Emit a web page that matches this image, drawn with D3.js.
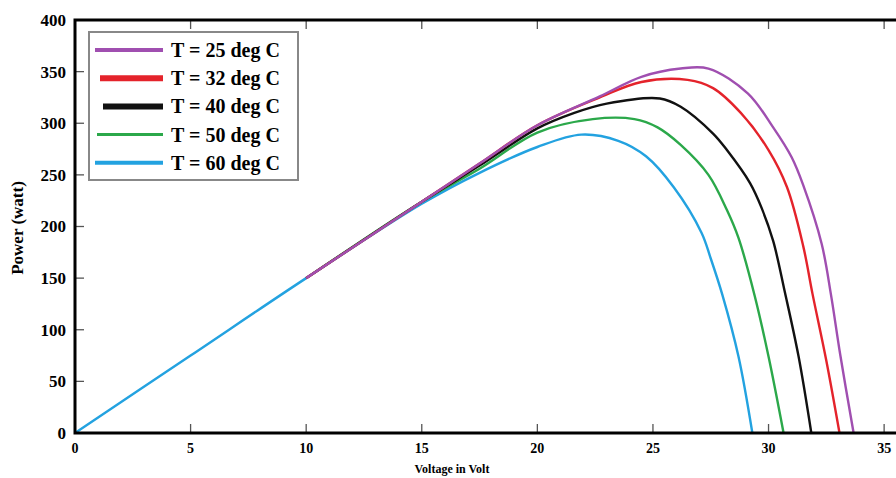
<!DOCTYPE html>
<html>
<head>
<meta charset="utf-8">
<script src="https://cdn.jsdelivr.net/npm/d3@7"></script>
<style>
  body { margin: 0; background: #fff; }
  text { font-family: "Liberation Serif", "Times New Roman", serif; font-weight: bold; }
</style>
</head>
<body>
<div id="chart"></div>
<script>
// P-V curves of the PV module at different temperatures

var xTicks = [0, 5, 10, 15, 20, 25, 30, 35];
var yTicks = [0, 50, 100, 150, 200, 250, 300, 350, 400];

var seriesNames = ["T = 25 deg C", "T = 32 deg C", "T = 40 deg C", "T = 50 deg C", "T = 60 deg C"];
var seriesColors = ["#a04fb0", "#e4232b", "#111111", "#2ba84a", "#23a2e0"];

// [voltage, power]
var t25 = [[10, 150], [15, 224], [17.5, 261], [20, 298], [22.7, 326], [24.5, 345], [26.2, 353], [27.4, 353],
           [29.1, 329], [30.2, 296], [31.0, 267], [31.5, 240], [32.3, 183], [32.7, 134], [33.1, 76], [33.68, 0]];
var t32 = [[10, 150], [15, 224], [17.5, 261], [20, 298], [22.7, 325], [24.5, 340], [26.5, 342], [27.6, 334],
           [28.8, 310], [30.0, 274], [30.8, 238], [31.5, 181], [31.9, 135], [32.5, 70], [33.07, 0]];
var t40 = [[10, 150], [15, 224], [17.5, 259], [20, 295], [21.6, 310], [23, 319], [25.3, 324], [26.2, 316],
           [27.6, 290], [28.2, 274], [29.2, 242], [29.7, 218], [30.2, 186], [30.7, 137], [31.3, 74], [31.85, 0]];
var t50 = [[10, 150], [15, 224], [17.5, 256], [20, 291], [22.4, 304], [24.2, 304], [25.2, 296], [26.2, 279],
           [27.4, 250], [28.2, 216], [28.7, 189], [29.4, 133], [30.0, 74], [30.65, 0]];
var t60 = [[0, 0], [5, 75], [10, 150], [15, 222], [17.5, 252], [20, 277], [21.9, 289], [23.5, 283], [24.7, 268],
           [25.9, 238], [27.1, 194], [27.5, 169], [28.0, 134], [28.7, 74], [29.3, 0]];

var allSeries = [t25, t32, t40, t50, t60];

var WIDTH = 896, HEIGHT = 478;
var plotLeft = 75, plotTop = 20, plotBottom = 433;

var svg = d3.select("#chart").append("svg")
    .attr("width", WIDTH)
    .attr("height", HEIGHT);

var x = d3.scaleLinear().domain([0, 35.6]).range([plotLeft, 898]);
var y = d3.scaleLinear().domain([0, 400]).range([plotBottom, plotTop]);

// ticks inside the frame
var tickG = svg.append("g").attr("stroke", "#555").attr("stroke-width", 1.3);
xTicks.forEach(function (t) {
    if (t == 0) return;
    tickG.append("line").attr("x1", x(t)).attr("x2", x(t)).attr("y1", plotBottom).attr("y2", plotBottom - 9);
    tickG.append("line").attr("x1", x(t)).attr("x2", x(t)).attr("y1", plotTop).attr("y2", plotTop + 9);
});
yTicks.forEach(function (t) {
    tickG.append("line").attr("x1", plotLeft).attr("x2", plotLeft + 9).attr("y1", y(t)).attr("y2", y(t));
});

// curves, blue first so the others sit above it
var line = d3.line()
    .x(function (d) { return x(d[0]); })
    .y(function (d) { return y(d[1]); })
    .curve(d3.curveCatmullRom.alpha(0.5));

for (var i = allSeries.length - 1; i >= 0; i--) {
    svg.append("path")
        .datum(allSeries[i])
        .attr("fill", "none")
        .attr("stroke", seriesColors[i])
        .attr("stroke-width", 2.4)
        .attr("stroke-linejoin", "round")
        .attr("d", line);
}

// frame
svg.append("path")
    .attr("d", "M" + (WIDTH + 2) + "," + plotTop + "H" + plotLeft + "V" + plotBottom + "H" + (WIDTH + 2))
    .attr("fill", "none")
    .attr("stroke", "#000")
    .attr("stroke-width", 3);

// tick labels
svg.selectAll(".ylab").data(yTicks).enter().append("text")
    .attr("x", 66)
    .attr("y", function (d) { return y(d); })
    .attr("dy", "0.35em")
    .attr("text-anchor", "end")
    .attr("font-size", 17)
    .text(function (d) { return d; });

svg.selectAll(".xlab").data(xTicks).enter().append("text")
    .attr("x", function (d) { return x(d); })
    .attr("y", 453)
    .attr("text-anchor", "middle")
    .attr("font-size", 14)
    .text(function (d) { return d; });

svg.append("text")
    .attr("x", 452)
    .attr("y", 473)
    .attr("text-anchor", "middle")
    .attr("font-size", 12)
    .text("Voltage in Volt");

svg.append("text")
    .attr("transform", "translate(23,228) rotate(-90)")
    .attr("text-anchor", "middle")
    .attr("font-size", 17)
    .text("Power (watt)");

// legend
var legend = svg.append("g");
legend.append("rect")
    .attr("x", 89).attr("y", 32)
    .attr("width", 209).attr("height", 148)
    .attr("fill", "#fff")
    .attr("stroke", "#888")
    .attr("stroke-width", 2);

var legendWidths = [4, 6, 6, 3, 4];
var legendStart = [95, 100, 103, 97, 95];
seriesNames.forEach(function (name, i) {
    var ly = 50 + i * 28.2;
    legend.append("line")
        .attr("x1", legendStart[i]).attr("x2", 163)
        .attr("y1", ly).attr("y2", ly)
        .attr("stroke", seriesColors[i])
        .attr("stroke-width", legendWidths[i]);
    legend.append("text")
        .attr("x", 171)
        .attr("y", ly)
        .attr("dy", "0.35em")
        .attr("font-size", 20)
        .text(name);
});
</script>
</body>
</html>
